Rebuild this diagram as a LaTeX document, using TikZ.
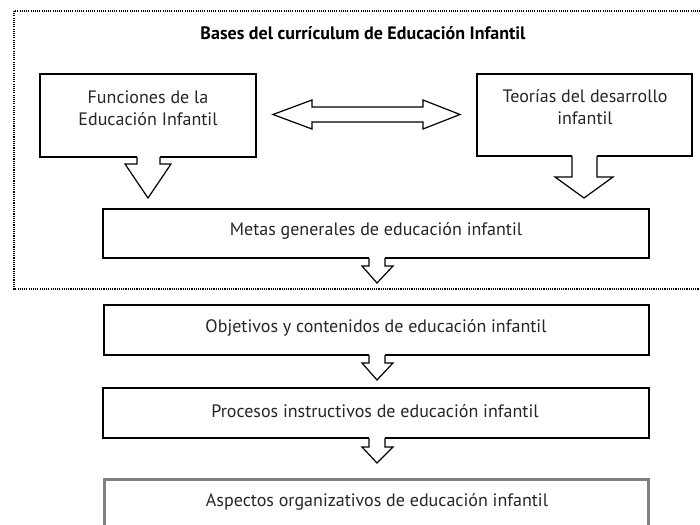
\documentclass[tikz,border=0pt]{standalone}
\usepackage{fontspec}
\setmainfont{PT Sans}
\begin{document}
\begin{tikzpicture}[x=1pt,y=-1pt,
  boxline/.style={draw=black,line width=1.4pt,fill=white},
  arrowline/.style={draw=black,line width=1.2pt,fill=white,line join=miter},
  lbl/.style={inner sep=0pt,font=\fontsize{18}{22}\selectfont,align=center,text=black!85},
  ttl/.style={inner sep=0pt,font=\fontsize{18}{22}\selectfont\bfseries}]
\useasboundingbox (0,0) rectangle (700,524);
% outer dotted frame
\draw[line width=2.2pt,dash pattern=on 1.1pt off 1.1pt,black] (14,11) rectangle (704,289);
\node[ttl] (title) at (363,33) {Bases del currículum de Educación Infantil};

% Funciones box with down callout
\draw[boxline] (40,74) rectangle (256,157);
\fill[white] (137,156) rectangle (160,158);
\draw[arrowline] (137,157) -- (137,164) -- (125,164) -- (148,198) -- (171,164) -- (160,164) -- (160,157);
\node[lbl] (fun) at (148,108) {Funciones de la\\Educación Infantil};

% Teorias box
\draw[boxline] (477,74) rectangle (692,156);
\fill[white] (572,155) rectangle (597,157);
\draw[arrowline] (572,156) -- (572,177) -- (555,177) -- (584,198) -- (613,177) -- (597,177) -- (597,156);
\node[lbl] (teo) at (585,107) {Teorías del desarrollo\\infantil};

% double arrow
\draw[arrowline] (273,114.5) -- (312,100) -- (312,107) -- (423,107) -- (423,100) -- (460,114.5)
  -- (423,129) -- (423,122) -- (312,122) -- (312,129) -- cycle;

% Metas
\draw[boxline] (103,209) rectangle (649,258);
\fill[white] (369,257) rectangle (385,259);
\draw[arrowline] (369,258) -- (369,266) -- (362,266) -- (377,283) -- (393,266) -- (385,266) -- (385,258);
\node[lbl] (met) at (376,231) {Metas generales de educación infantil};

% Objetivos
\draw[boxline] (104,305) rectangle (649,355);
\fill[white] (369,354) rectangle (385,356);
\draw[arrowline] (369,355) -- (369,363) -- (362,363) -- (377,380) -- (393,363) -- (385,363) -- (385,355);
\node[lbl] (obj) at (376,328) {Objetivos y contenidos de educación infantil};

% Procesos
\draw[boxline] (103,388) rectangle (649,438);
\fill[white] (369,437) rectangle (385,439);
\draw[arrowline] (369,438) -- (369,447) -- (362,447) -- (377,463) -- (393,447) -- (385,447) -- (385,438);
\node[lbl] (pro) at (375,411) {Procesos instructivos de educación infantil};

% Aspectos
\draw[draw=black!50,line width=3pt] (104,479) rectangle (648,535);
\node[lbl] (asp) at (377,502) {Aspectos organizativos de educación infantil};
\end{tikzpicture}
\end{document}
